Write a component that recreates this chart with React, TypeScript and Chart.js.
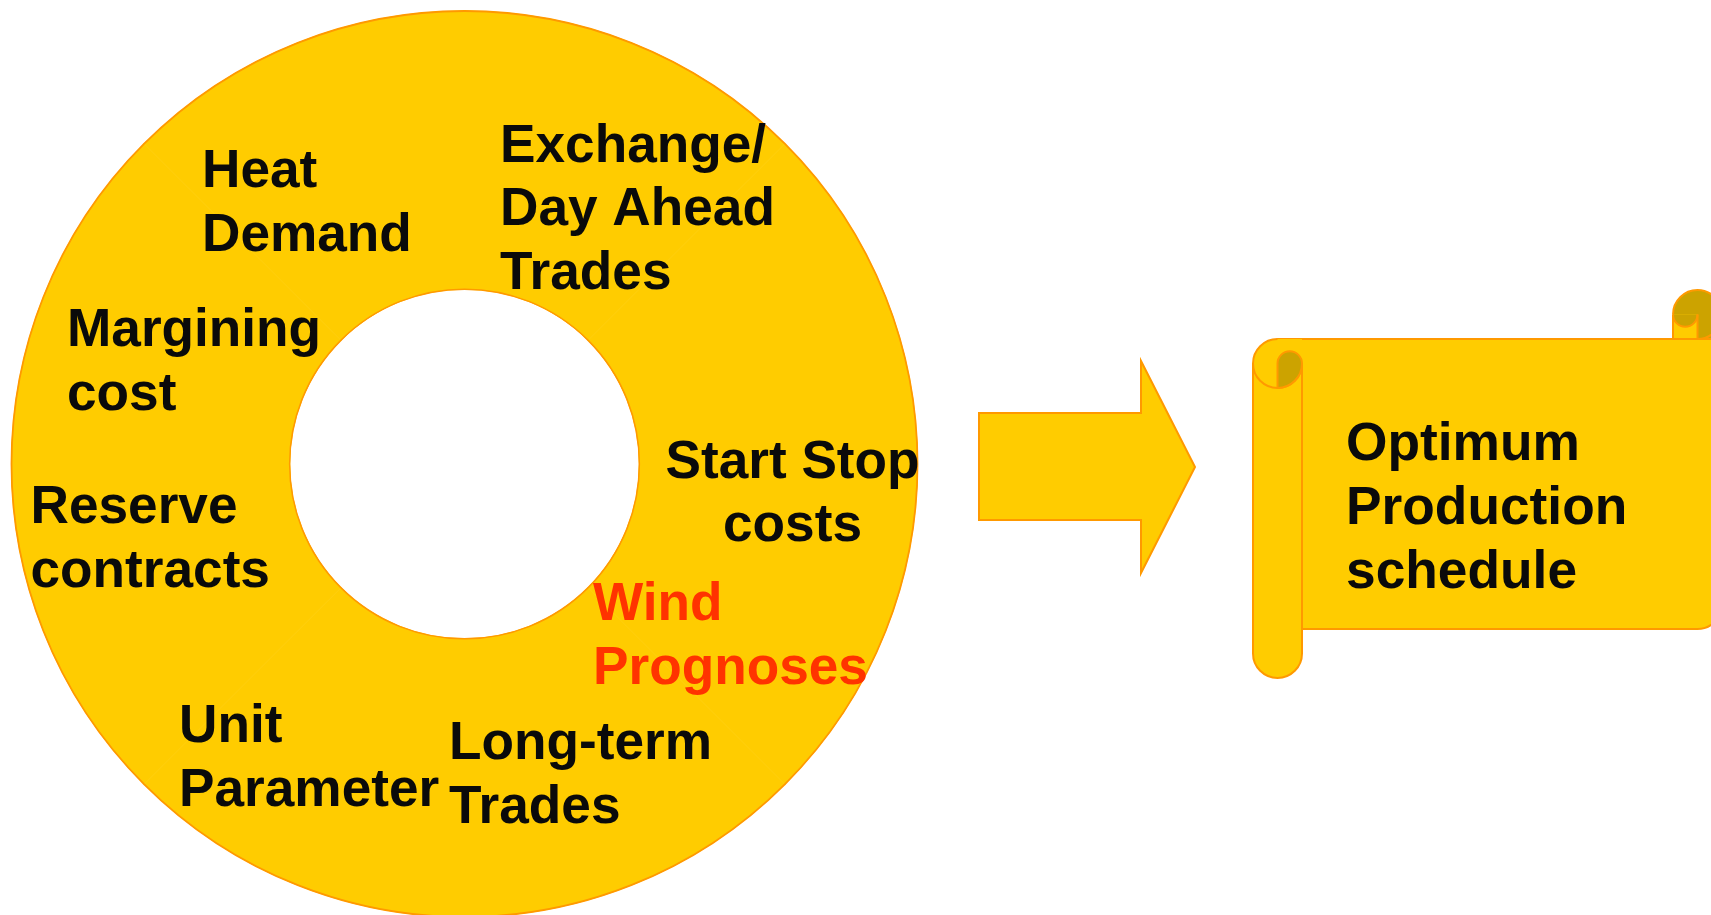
import React, { useEffect, useRef } from "react";
import { Chart, registerables } from "chart.js";

Chart.register(...registerables);

// ---- Data ----
const CATEGORIES: string[][] = [
  ["Exchange/", "Day Ahead", "Trades"],
  ["Start Stop", "costs"],
  ["Wind", "Prognoses"],
  ["Long-term", "Trades"],
  ["Unit", "Parameter"],
  ["Reserve", "contracts"],
  ["Margining", "cost"],
  ["Heat", "Demand"],
];
const SEGMENT_VALUES = [1, 1, 1, 1, 1, 1, 1, 1];
const HIGHLIGHTED = [false, false, true, false, false, false, false, false];
const OUTPUT_LABEL = ["Optimum", "Production", "schedule"];

// ---- Styles / layout ----
const YELLOW = "#FFCC00";
const ORANGE = "#FF9900";
const DARK = "#CCA300";
const BLACK = "#0a0a0a";
const RED = "#FF3300";
const FONT = '"Liberation Sans", Arial, sans-serif';
const FONT_SIZE = 53.2;
const LINE_HEIGHT = 63.5;

// label anchors relative to doughnut centre
const LABEL_LAYOUT: { dx: number; dy: number; align: CanvasTextAlign }[] = [
  { dx: 35.5, dy: -302.5, align: "left" },
  { dx: 328, dy: 13.5, align: "center" },
  { dx: 128.5, dy: 156, align: "left" },
  { dx: -15.5, dy: 295, align: "left" },
  { dx: -285.5, dy: 278, align: "left" },
  { dx: -434, dy: 59.4, align: "left" },
  { dx: -397.5, dy: -118, align: "left" },
  { dx: -262.5, dy: -277, align: "left" },
];

const ARROW = { x0: 979, x1: 1141, x2: 1195, bodyTop: 413, bodyBottom: 520, headTop: 361, headBottom: 573 };
const SCROLL = { l: 1253, t: 290, r: 1722, b: 678, ch: 49 };
const SCROLL_TEXT = { x: 1346, y: 460, lh: 64, size: 53.3 };

function drawArrow(ctx: CanvasRenderingContext2D) {
  const a = ARROW;
  const mid = (a.headTop + a.headBottom) / 2;
  ctx.beginPath();
  ctx.moveTo(a.x0, a.bodyTop);
  ctx.lineTo(a.x1, a.bodyTop);
  ctx.lineTo(a.x1, a.headTop);
  ctx.lineTo(a.x2, mid);
  ctx.lineTo(a.x1, a.headBottom);
  ctx.lineTo(a.x1, a.bodyBottom);
  ctx.lineTo(a.x0, a.bodyBottom);
  ctx.closePath();
  ctx.fillStyle = YELLOW;
  ctx.fill();
  ctx.lineWidth = 2;
  ctx.strokeStyle = ORANGE;
  ctx.stroke();
}

function drawScroll(ctx: CanvasRenderingContext2D) {
  const { l, t, r, b, ch } = SCROLL;
  const ch2 = ch / 2;
  const ch4 = ch / 4;
  const x3 = r - ch;
  const x4 = r - ch2;
  const y3 = t + ch + ch2;
  const y4 = t + 2 * ch;
  const y6 = b - ch;
  const y7 = b - ch2;
  const PI = Math.PI;
  ctx.lineWidth = 2;
  ctx.strokeStyle = ORANGE;
  ctx.lineJoin = "round";

  // sheet
  ctx.beginPath();
  ctx.moveTo(l + ch2, t + ch);
  ctx.lineTo(r, t + ch);
  ctx.lineTo(r, y6 - ch2);
  ctx.arc(x4, y6 - ch2, ch2, 0, PI / 2);
  ctx.lineTo(l + ch2, y6);
  ctx.closePath();
  ctx.fillStyle = YELLOW;
  ctx.fill();
  ctx.stroke();

  // top-right roll
  ctx.beginPath();
  ctx.arc(x4, t + ch2, ch2, 0, PI * 2);
  ctx.fillStyle = DARK;
  ctx.fill();
  ctx.fillRect(x4, t + ch2, ch2, ch2);
  ctx.fillStyle = YELLOW;
  ctx.fillRect(x3, t + ch2, ch2, ch2);
  ctx.beginPath();
  ctx.moveTo(x3, t + ch2);
  ctx.arc(x3 + ch4, t + ch2, ch4, PI, 0, true);
  ctx.closePath();
  ctx.fillStyle = DARK;
  ctx.fill();
  ctx.beginPath();
  ctx.arc(x3 + ch4, t + ch2, ch4, PI, 0, true);
  ctx.stroke();
  ctx.beginPath();
  ctx.arc(x4, t + ch2, ch2, PI, PI * 2.5);
  ctx.stroke();
  ctx.beginPath();
  ctx.moveTo(x3, t + ch2);
  ctx.lineTo(x3, t + ch);
  ctx.moveTo(x4, t + ch2);
  ctx.lineTo(x4, t + ch);
  ctx.moveTo(x3, t + ch);
  ctx.lineTo(r, t + ch);
  ctx.stroke();

  // left roll
  ctx.beginPath();
  ctx.moveTo(l, y3);
  ctx.arc(l + ch2, y3, ch2, PI, 1.5 * PI);
  ctx.lineTo(l + ch, t + ch);
  ctx.lineTo(l + ch, y7);
  ctx.arc(l + ch2, y7, ch2, 0, PI);
  ctx.closePath();
  ctx.fillStyle = YELLOW;
  ctx.fill();
  ctx.beginPath();
  ctx.moveTo(l + ch2, t + ch);
  ctx.arc(l + ch2, y3, ch2, 1.5 * PI, PI, true);
  ctx.lineTo(l, y7);
  ctx.arc(l + ch2, y7, ch2, PI, 0, true);
  ctx.lineTo(l + ch, y3);
  ctx.stroke();
  ctx.beginPath();
  ctx.arc(l + ch2, y3, ch2, 0, PI);
  ctx.stroke();
  // curl
  ctx.beginPath();
  ctx.moveTo(l + ch2, y4);
  ctx.arc(l + ch2, y3, ch2, PI / 2, 0, true);
  ctx.arc(l + ch - ch4, y3, ch4, 0, PI, true);
  ctx.closePath();
  ctx.fillStyle = DARK;
  ctx.fill();
  ctx.stroke();

  // text
  ctx.font = `bold ${SCROLL_TEXT.size}px ${FONT}`;
  ctx.fillStyle = BLACK;
  ctx.textAlign = "left";
  ctx.textBaseline = "alphabetic";
  OUTPUT_LABEL.forEach((line, j) => {
    ctx.fillText(line, SCROLL_TEXT.x, SCROLL_TEXT.y + j * SCROLL_TEXT.lh);
  });
}

const diagramPlugin = {
  id: "diagram",
  afterDatasetsDraw(chart: any) {
    const ctx: CanvasRenderingContext2D = chart.ctx;
    const meta = chart.getDatasetMeta(0);
    const el = meta.data[0];
    const { x, y, outerRadius, innerRadius } = el.getProps(["x", "y", "outerRadius", "innerRadius"], true);
    ctx.save();
    ctx.strokeStyle = ORANGE;
    ctx.lineWidth = 1.8;
    ctx.beginPath();
    ctx.arc(x, y, outerRadius, 0, Math.PI * 2);
    ctx.stroke();
    ctx.lineWidth = 1.5;
    ctx.beginPath();
    ctx.arc(x, y, innerRadius, 0, Math.PI * 2);
    ctx.stroke();

    ctx.font = `bold ${FONT_SIZE}px ${FONT}`;
    ctx.textBaseline = "alphabetic";
    CATEGORIES.forEach((lines, i) => {
      const L = LABEL_LAYOUT[i];
      ctx.fillStyle = HIGHLIGHTED[i] ? RED : BLACK;
      ctx.textAlign = L.align;
      lines.forEach((line, j) => {
        ctx.fillText(line, x + L.dx, y + L.dy + j * LINE_HEIGHT);
      });
    });

    drawArrow(ctx);
    drawScroll(ctx);
    ctx.restore();
  },
};

export default function App() {
  const ref = useRef<HTMLCanvasElement | null>(null);
  useEffect(() => {
    if (!ref.current) return;
    const chart = new Chart(ref.current, {
      type: "doughnut",
      data: {
        labels: CATEGORIES.map((l) => l.join(" ")),
        datasets: [
          {
            data: SEGMENT_VALUES,
            backgroundColor: YELLOW,
            borderColor: YELLOW,
            borderWidth: 1,
            clip: false as any,
          },
        ],
      },
      options: {
        responsive: false,
        animation: false,
        devicePixelRatio: 1,
        events: [],
        radius: 453,
        cutout: "38.6%",
        layout: { padding: { left: 0, right: 782, top: 13, bottom: 0 } },
        plugins: { legend: { display: false }, tooltip: { enabled: false } },
      } as any,
      plugins: [diagramPlugin],
    });
    return () => chart.destroy();
  }, []);
  return (
    <div
      style={{
        position: "fixed",
        left: 0,
        top: 0,
        width: 1711,
        height: 915,
        background: "#fff",
        overflow: "hidden",
      }}
    >
      <canvas ref={ref} width={1711} height={915} style={{ display: "block", width: 1711, height: 915 }} />
    </div>
  );
}
